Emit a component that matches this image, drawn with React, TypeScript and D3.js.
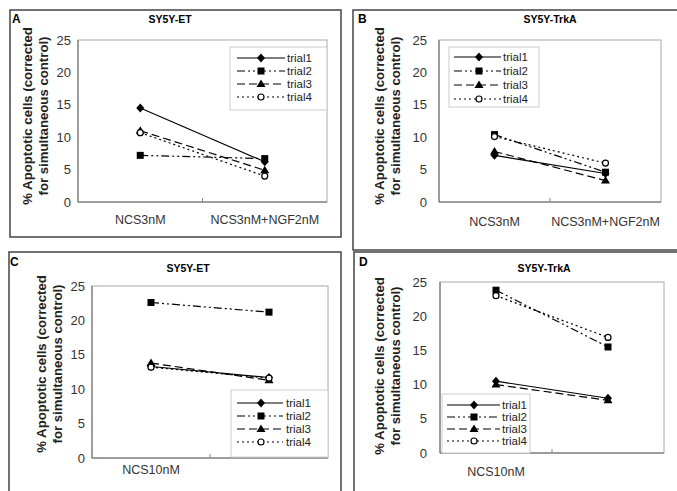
import React, { useEffect, useRef } from "react";
import * as d3 from "d3";

// category labels
const catsNGF = ["NCS3nM", "NCS3nM+NGF2nM"];
const cats10 = ["NCS10nM", ""];
const trials = ["trial1", "trial2", "trial3", "trial4"];
const yTicks = [0, 5, 10, 15, 20, 25];

// % apoptotic cells per trial, [first condition, second condition]
const etNGF = [
  [14.5, 6.2],
  [7.2, 6.7],
  [11.0, 4.9],
  [10.7, 4.0],
];
const trkNGF = [
  [7.2, 4.4],
  [10.4, 4.6],
  [7.8, 3.3],
  [10.1, 6.0],
];
const et10 = [
  [13.3, 11.7],
  [22.6, 21.2],
  [13.8, 11.3],
  [13.2, 11.6],
];
const trk10 = [
  [10.5, 8.0],
  [23.8, 15.5],
  [10.0, 7.7],
  [23.0, 16.9],
];

const dashes = [null, "8,3,2,3,2,3", "8,4", "2,3"];

// layout of the four panels
const panels = [
  {
    letter: "A", title: "SY5Y-ET", cats: catsNGF, values: etNGF,
    frame: [10, 10, 331, 227], plot: { l: 78, r: 327, t: 40, b: 202 },
    titleX: 170, titleY: 23, letterXY: [12, 23], ylabX: [27, 43], ylabY: 116,
    tickX: 71, catY: 224,
    legend: { x: 230, y: 47, w: 97, h: 63, row0: 58, dy: 13, l0: 237, l1: 285, m: 261, tx: 287 },
  },
  {
    letter: "B", title: "SY5Y-TrkA", cats: catsNGF, values: trkNGF,
    frame: [353, 10, 340, 240], plot: { l: 439, r: 661, t: 40, b: 202 },
    titleX: 550, titleY: 23, letterXY: [358, 23], ylabX: [379, 395], ylabY: 116,
    tickX: 427, catY: 226,
    legend: { x: 449, y: 47, w: 90, h: 60, row0: 57, dy: 14, l0: 454, l1: 501, m: 479, tx: 503 },
  },
  {
    letter: "C", title: "SY5Y-ET", cats: cats10, values: et10,
    frame: [9, 252, 332, 250], plot: { l: 92, r: 328, t: 286, b: 458 },
    titleX: 188, titleY: 272, letterXY: [10, 266], ylabX: [41, 57], ylabY: 364,
    tickX: 85, catY: 474,
    legend: { x: 231, y: 390, w: 97, h: 67, row0: 403, dy: 13, l0: 237, l1: 283, m: 261, tx: 286 },
  },
  {
    letter: "D", title: "SY5Y-TrkA", cats: cats10, values: trk10,
    frame: [354, 252, 340, 250], plot: { l: 440, r: 664, t: 282, b: 453 },
    titleX: 544, titleY: 272, letterXY: [359, 266], ylabX: [379, 395], ylabY: 366,
    tickX: 427, catY: 476,
    legend: { x: 442, y: 394, w: 88, h: 59, row0: 405, dy: 12, l0: 447, l1: 500, m: 474, tx: 502 },
  },
];

const FONT = "'Liberation Sans', Arial, sans-serif";

function drawMarker(g: any, i: number, x: number, y: number) {
  if (i === 0) {
    g.append("path").attr("d", `M${x},${y - 4.5}L${x + 4},${y}L${x},${y + 4.5}L${x - 4},${y}Z`).attr("fill", "#000");
  } else if (i === 1) {
    g.append("rect").attr("x", x - 3.5).attr("y", y - 3.5).attr("width", 7).attr("height", 7).attr("fill", "#000");
  } else if (i === 2) {
    g.append("path").attr("d", `M${x},${y - 4.5}L${x + 4.5},${y + 3}L${x - 4.5},${y + 3}Z`).attr("fill", "#000");
  } else {
    g.append("circle").attr("cx", x).attr("cy", y).attr("r", 3).attr("fill", "#fff").attr("stroke", "#000").attr("stroke-width", 1.2);
  }
}

export default function App() {
  const ref = useRef<SVGSVGElement>(null);

  useEffect(() => {
    const svg = d3.select(ref.current);
    svg.selectAll("*").remove();

    panels.forEach((p) => {
      const g = svg.append("g");
      const [fx, fy, fw, fh] = p.frame;
      g.append("rect").attr("x", fx).attr("y", fy).attr("width", fw).attr("height", fh)
        .attr("fill", "#fff").attr("stroke", "#444").attr("stroke-width", 1.5);

      const x = d3.scalePoint<string>().domain(p.cats).range([p.plot.l, p.plot.r]).padding(0.5);
      const y = d3.scaleLinear().domain([0, 25]).range([p.plot.b, p.plot.t]);

      // plot area
      g.append("rect").attr("x", p.plot.l).attr("y", p.plot.t)
        .attr("width", p.plot.r - p.plot.l).attr("height", p.plot.b - p.plot.t)
        .attr("fill", "none").attr("stroke", "#aaa").attr("stroke-width", 1);
      g.append("line").attr("x1", p.plot.l).attr("x2", p.plot.l).attr("y1", p.plot.t).attr("y2", p.plot.b)
        .attr("stroke", "#666");
      g.append("line").attr("x1", p.plot.l).attr("x2", p.plot.r).attr("y1", p.plot.b).attr("y2", p.plot.b)
        .attr("stroke", "#666");
      // category divider tick
      const mid = (p.plot.l + p.plot.r) / 2;
      g.append("line").attr("x1", mid).attr("x2", mid).attr("y1", p.plot.b).attr("y2", p.plot.b - 4)
        .attr("stroke", "#888");

      // y tick labels
      g.selectAll(".yt").data(yTicks).enter().append("text")
        .attr("x", p.tickX).attr("y", (d) => y(d) + 4.5)
        .attr("text-anchor", "end").attr("font-size", 13).attr("font-family", FONT).attr("fill", "#333")
        .text((d) => d);

      // category labels
      g.selectAll(".xc").data(p.cats).enter().append("text")
        .attr("x", (d) => x(d)!).attr("y", p.catY)
        .attr("text-anchor", "middle").attr("font-size", 12.5).attr("font-family", FONT).attr("fill", "#333")
        .text((d) => d);

      // titles
      g.append("text").attr("x", p.titleX).attr("y", p.titleY).attr("text-anchor", "middle")
        .attr("font-size", 10.5).attr("font-weight", "bold").attr("font-family", FONT).text(p.title);
      g.append("text").attr("x", p.letterXY[0]).attr("y", p.letterXY[1])
        .attr("font-size", 12).attr("font-weight", "bold").attr("font-family", FONT).text(p.letter);

      // y axis label, two lines
      ["% Apoptotic cells (corrected", "for simultaneous control)"].forEach((t, k) => {
        g.append("text")
          .attr("transform", `translate(${p.ylabX[k] + 5},${p.ylabY}) rotate(-90)`)
          .attr("text-anchor", "middle").attr("font-size", 13.2).attr("font-weight", "bold")
          .attr("font-family", FONT).attr("fill", "#222").text(t);
      });

      // series
      const line = d3.line<number>().x((_, j) => x(p.cats[j])!).y((d) => y(d));
      p.values.forEach((vals, i) => {
        g.append("path").attr("d", line(vals)!).attr("fill", "none").attr("stroke", "#000")
          .attr("stroke-width", 1.2).attr("stroke-dasharray", dashes[i]);
      });
      p.values.forEach((vals, i) => {
        vals.forEach((v, j) => drawMarker(g, i, x(p.cats[j])!, y(v)));
      });

      // legend
      const L = p.legend;
      g.append("rect").attr("x", L.x).attr("y", L.y).attr("width", L.w).attr("height", L.h)
        .attr("fill", "#fff").attr("stroke", "#ccc").attr("stroke-width", 1);
      trials.forEach((name, i) => {
        const ry = L.row0 + i * L.dy;
        g.append("line").attr("x1", L.l0).attr("x2", L.l1).attr("y1", ry).attr("y2", ry)
          .attr("stroke", "#000").attr("stroke-width", 1.2).attr("stroke-dasharray", dashes[i]);
        drawMarker(g, i, L.m, ry);
        g.append("text").attr("x", L.tx).attr("y", ry + 4).attr("font-size", 11.5)
          .attr("font-family", FONT).attr("fill", "#222").text(name);
      });
    });
  }, []);

  return (
    <svg ref={ref} width={677} height={491}
      style={{ position: "absolute", left: 0, top: 0, background: "#fff" }} />
  );
}
